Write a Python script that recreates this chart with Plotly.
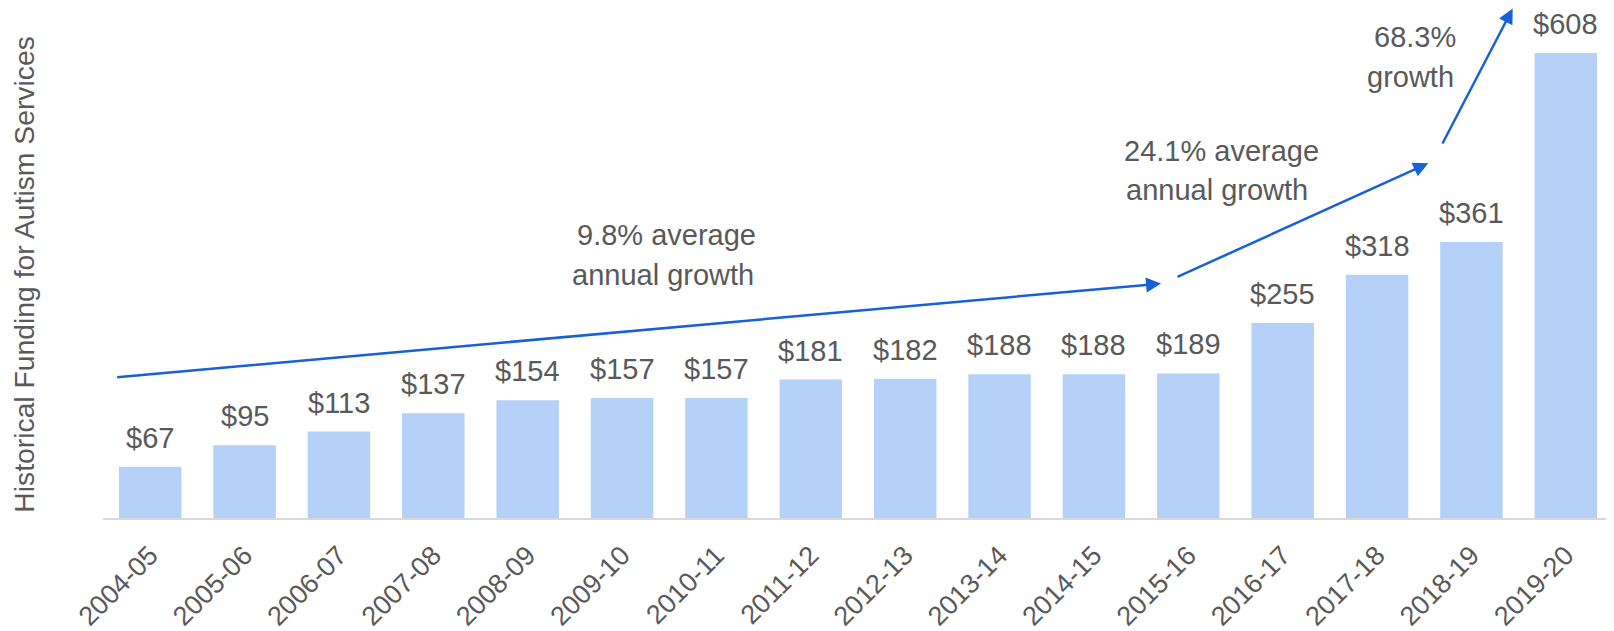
import plotly.graph_objects as go

years = ["2004-05", "2005-06", "2006-07", "2007-08", "2008-09", "2009-10", "2010-11",
         "2011-12", "2012-13", "2013-14", "2014-15", "2015-16", "2016-17", "2017-18",
         "2018-19", "2019-20"]
funding = [67, 95, 113, 137, 154, 157, 157, 181, 182, 188, 188, 189, 255, 318, 361, 608]

growth_labels = ["9.8% average", "annual growth", "24.1% average", "annual growth",
                 "68.3%", "growth"]

TEXT = "#595959"
FONT = "Liberation Sans, Arial, sans-serif"
BLUE = "#1660D8"

fig = go.Figure(go.Bar(
    x=years, y=funding,
    marker=dict(color="#B5D1F7", line=dict(width=0)),
    hoverinfo="skip",
))

ann = []
for yr, v in zip(years, funding):
    ann.append(dict(x=yr, y=v, xref="x", yref="y", text=f"${v}", showarrow=False,
                    yanchor="bottom", yshift=11,
                    font=dict(size=29, color=TEXT, family=FONT)))

# growth arrows (head at x,y ; tail at ax,ay), in category-index / value units
arrows = [((10.711, 306.6), (-0.366, 184.0)),
          ((13.543, 463.9), (10.869, 314.5)),
          ((14.437, 666.3), (13.685, 487.8))]
for (hx, hy), (tx, ty) in arrows:
    ann.append(dict(x=hx, y=hy, ax=tx, ay=ty, xref="x", yref="y", axref="x", ayref="y",
                    text="", showarrow=True, arrowhead=2, arrowsize=1.2,
                    arrowwidth=2.5, arrowcolor=BLUE))

label_pos = [(5.469, 370.5), (5.431, 318.2), (11.355, 480.0), (11.301, 429.0),
             (13.407, 628.7), (13.354, 576.4)]
for txt, (lx, ly) in zip(growth_labels, label_pos):
    ann.append(dict(x=lx, y=ly, xref="x", yref="y", text=txt, showarrow=False,
                    xanchor="center", yanchor="middle",
                    font=dict(size=29, color=TEXT, family=FONT)))

ann.append(dict(x=-0.052, y=0.478, xref="paper", yref="paper",
                text="Historical Funding for Autism Services", textangle=-90,
                showarrow=False, xanchor="center", yanchor="middle",
                font=dict(size=28.3, color=TEXT, family=FONT)))

# the page adds an 8px body margin, so the figure is sized to fit inside it
fig.update_layout(
    width=1606, height=623,
    margin=dict(l=95, r=1, t=0, b=113),
    paper_bgcolor="white", plot_bgcolor="white",
    bargap=0.338,
    showlegend=False,
    annotations=ann,
    xaxis=dict(type="category", range=[-0.5, len(years) - 0.5],
               showline=True, linecolor="#D9D9D9", linewidth=1.5, ticks="",
               showgrid=False, tickangle=-45, automargin=False,
               ticklabelstandoff=9,
               tickfont=dict(size=27, color=TEXT, family=FONT)),
    yaxis=dict(range=[0, 667], visible=False, showgrid=False, zeroline=False,
               automargin=False),
)

fig.write_html("out.html")
